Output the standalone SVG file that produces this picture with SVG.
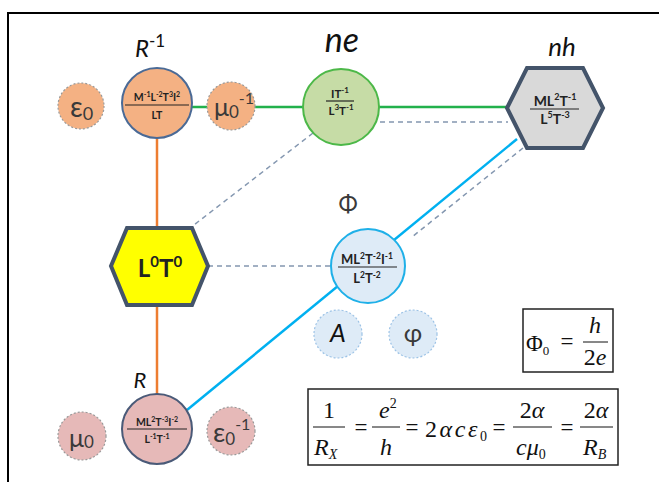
<svg xmlns="http://www.w3.org/2000/svg" width="659" height="482" viewBox="0 0 659 482">
<style>
.lbl{font-family:Lato,"Open Sans","Liberation Sans",sans-serif;font-style:italic;fill:#111}
.dim{font-family:Lato,"Liberation Sans",sans-serif;font-weight:bold;fill:#222;text-anchor:middle}
.sym{font-family:Lato,"Liberation Sans",sans-serif;fill:#3a3a3a}
.m{font-family:"Liberation Serif","Times New Roman",serif;fill:#111}
.mi{font-style:italic}
.dash{stroke:#8497b0;stroke-width:1.5;stroke-dasharray:5 4;fill:none}
.sat{stroke:#9a9a9a;stroke-width:1.2;stroke-dasharray:2 2}
.ul{stroke:#222;stroke-width:1.2}
.box{fill:#fff;stroke:#222;stroke-width:1.5}
</style>
<rect width="659" height="482" fill="#fff"/>
<path d="M8,482 V13 H659" fill="none" stroke="#000" stroke-width="2"/>

<g id="connectors">
<line x1="157" y1="138" x2="157" y2="394" stroke="#ed7d31" stroke-width="2.5"/>
<line x1="192" y1="107" x2="507" y2="107" stroke="#22b14c" stroke-width="2.5"/>
<line x1="517" y1="139" x2="187" y2="410" stroke="#00b0f0" stroke-width="2.5"/>
<line x1="380" y1="122" x2="508" y2="122" class="dash"/>
<line x1="313" y1="133" x2="190" y2="228" class="dash"/>
<line x1="523" y1="148" x2="412" y2="237" class="dash"/>
<line x1="208" y1="266" x2="331" y2="266" class="dash"/>
</g>

<g id="eps0">
<circle cx="81" cy="106" r="23" fill="#f4b183" class="sat"/>
<text x="70" y="117" class="sym" font-size="28">ε<tspan font-size="18" dy="3">0</tspan></text>
</g>
<g id="mu0inv">
<circle cx="231" cy="106" r="24" fill="#f4b183" class="sat"/>
<text x="214" y="116" class="sym" font-size="25">μ<tspan font-size="17" dy="2">0</tspan><tspan font-size="16" dy="-14">-1</tspan></text>
</g>
<g id="Rinv">
<circle cx="157" cy="103" r="35" fill="#f4b183" stroke="#4a6a96" stroke-width="2"/>
<text x="157" y="101" class="dim" font-size="10.5">M<tspan font-size="7" dy="-4">-1</tspan><tspan dy="4">L</tspan><tspan font-size="7" dy="-4">-2</tspan><tspan dy="4">T</tspan><tspan font-size="7" dy="-4">3</tspan><tspan dy="4">I</tspan><tspan font-size="7" dy="-4">2</tspan></text>
<line x1="125" y1="105" x2="189" y2="105" class="ul"/>
<text x="157" y="119" class="dim" font-size="10.5">LT</text>
<text x="135" y="57" class="lbl" font-size="24">R<tspan font-size="17" font-style="normal" dy="-10">-1</tspan></text>
</g>

<g id="ne">
<circle cx="341" cy="107" r="38" fill="#c6dca6" stroke="#4cb848" stroke-width="2"/>
<text x="340" y="98" class="dim" font-size="11.5">IT<tspan font-size="8" dy="-5">-1</tspan></text>
<line x1="326" y1="101" x2="354" y2="101" class="ul"/>
<text x="341" y="115" class="dim" font-size="11.5">L<tspan font-size="8" dy="-5">3</tspan><tspan dy="5">T</tspan><tspan font-size="8" dy="-5">-1</tspan></text>
<text x="342" y="52" class="lbl" font-size="34" text-anchor="middle">ne</text>
</g>

<g id="nh">
<polygon points="507,108 527,68 583,68 603,108 583,148 527,148" fill="#d9d9d9" stroke="#44546a" stroke-width="4" stroke-linejoin="miter"/>
<text x="555" y="106" class="dim" font-size="14">ML<tspan font-size="9" dy="-6">2</tspan><tspan dy="6">T</tspan><tspan font-size="9" dy="-6">-1</tspan></text>
<line x1="530" y1="109" x2="579" y2="109" class="ul" stroke-width="1.4"/>
<text x="555" y="124" class="dim" font-size="14">L<tspan font-size="9" dy="-6">5</tspan><tspan dy="6">T</tspan><tspan font-size="9" dy="-6">-3</tspan></text>
<text x="562" y="56" class="lbl" font-size="26" text-anchor="middle">nh</text>
</g>

<g id="L0T0">
<polygon points="111,266 127,228 192,228 208,266 192,305 127,305" fill="#ffff00" stroke="#44546a" stroke-width="4"/>
<text x="160" y="277" class="dim" font-size="24" fill="#111">L<tspan font-size="15" dy="-10">0</tspan><tspan dy="10">T</tspan><tspan font-size="15" dy="-10">0</tspan></text>
</g>

<g id="Phi">
<circle cx="368" cy="266" r="37" fill="#deebf7" stroke="#1fb0e8" stroke-width="2"/>
<text x="367" y="264" class="dim" font-size="13">ML<tspan font-size="8.5" dy="-5">2</tspan><tspan dy="5">T</tspan><tspan font-size="8.5" dy="-5">-2</tspan><tspan dy="5">I</tspan><tspan font-size="8.5" dy="-5">-1</tspan></text>
<line x1="338" y1="267" x2="397" y2="267" class="ul" stroke-width="1.4"/>
<text x="367" y="283" class="dim" font-size="13">L<tspan font-size="8.5" dy="-5">2</tspan><tspan dy="5">T</tspan><tspan font-size="8.5" dy="-5">-2</tspan></text>
<text x="348" y="212" class="sym" font-size="23" fill="#111" text-anchor="middle">Φ</text>
</g>

<g id="A">
<circle cx="338" cy="334" r="24" fill="#deebf7" stroke="#9dc3e6" stroke-width="1.2" stroke-dasharray="2 2"/>
<text x="338" y="342" class="lbl" font-size="25" text-anchor="middle" fill="#222">A</text>
</g>
<g id="varphi">
<circle cx="413" cy="334" r="24" fill="#deebf7" stroke="#9dc3e6" stroke-width="1.2" stroke-dasharray="2 2"/>
<text x="413" y="342" class="sym" font-size="25" text-anchor="middle" fill="#222">φ</text>
</g>

<g id="R">
<circle cx="157" cy="429" r="35" fill="#e6b9b8" stroke="#4a5a78" stroke-width="2"/>
<text x="157" y="426" class="dim" font-size="10.5">ML<tspan font-size="7" dy="-4">2</tspan><tspan dy="4">T</tspan><tspan font-size="7" dy="-4">-3</tspan><tspan dy="4">I</tspan><tspan font-size="7" dy="-4">-2</tspan></text>
<line x1="127" y1="429" x2="187" y2="429" class="ul"/>
<text x="157" y="443" class="dim" font-size="10.5">L<tspan font-size="7" dy="-4">-1</tspan><tspan dy="4">T</tspan><tspan font-size="7" dy="-4">-1</tspan></text>
<text x="140" y="388" class="lbl" font-size="22" text-anchor="middle">R</text>
</g>
<g id="mu0">
<circle cx="82" cy="436" r="24" fill="#e6b9b8" class="sat"/>
<text x="69" y="447" class="sym" font-size="25">μ<tspan font-size="17" dy="1">0</tspan></text>
</g>
<g id="eps0inv">
<circle cx="231" cy="431" r="24" fill="#e6b9b8" class="sat"/>
<text x="213" y="442" class="sym" font-size="27">ε<tspan font-size="17" dy="3">0</tspan><tspan font-size="16" dy="-15">-1</tspan></text>
</g>

<g id="flux-quantum">
<rect x="523" y="309" width="90" height="63" class="box"/>
<text x="526" y="351" class="m" font-size="23">Φ<tspan font-size="13" dy="4">0</tspan></text>
<text x="567" y="349" class="m" font-size="23" text-anchor="middle">=</text>
<text x="595" y="333" class="m mi" font-size="24" text-anchor="middle">h</text>
<line x1="583" y1="342" x2="608" y2="342" stroke="#111" stroke-width="1"/>
<text x="595" y="365" class="m" font-size="24" text-anchor="middle">2<tspan class="mi">e</tspan></text>
</g>

<g id="conductance">
<rect x="308" y="389" width="310" height="76" class="box"/>
<text x="329" y="418" class="m" font-size="24" text-anchor="middle">1</text>
<line x1="313" y1="427" x2="345" y2="427" stroke="#111" stroke-width="1"/>
<text x="314" y="455" class="m mi" font-size="24">R<tspan font-size="14" dy="4">X</tspan></text>
<text x="361" y="435" class="m" font-size="23" text-anchor="middle">=</text>
<text x="379" y="418" class="m mi" font-size="24">e<tspan font-size="14" font-style="normal" dy="-10">2</tspan></text>
<line x1="372" y1="427" x2="400" y2="427" stroke="#111" stroke-width="1"/>
<text x="386" y="455" class="m mi" font-size="24" text-anchor="middle">h</text>
<text x="412" y="435" class="m" font-size="23" text-anchor="middle">=</text>
<text x="425" y="437" class="m" font-size="24" textLength="62" lengthAdjust="spacing">2<tspan class="mi">αcε</tspan><tspan font-size="14" dy="4">0</tspan></text>
<text x="499" y="435" class="m" font-size="23" text-anchor="middle">=</text>
<text x="532" y="418" class="m" font-size="24" text-anchor="middle">2<tspan class="mi">α</tspan></text>
<line x1="513" y1="427" x2="552" y2="427" stroke="#111" stroke-width="1"/>
<text x="516" y="455" class="m mi" font-size="24">cμ<tspan font-size="14" font-style="normal" dy="4">0</tspan></text>
<text x="567" y="435" class="m" font-size="23" text-anchor="middle">=</text>
<text x="596" y="418" class="m" font-size="24" text-anchor="middle">2<tspan class="mi">α</tspan></text>
<line x1="580" y1="427" x2="613" y2="427" stroke="#111" stroke-width="1"/>
<text x="583" y="455" class="m mi" font-size="24">R<tspan font-size="14" dy="4">B</tspan></text>
</g>
</svg>
